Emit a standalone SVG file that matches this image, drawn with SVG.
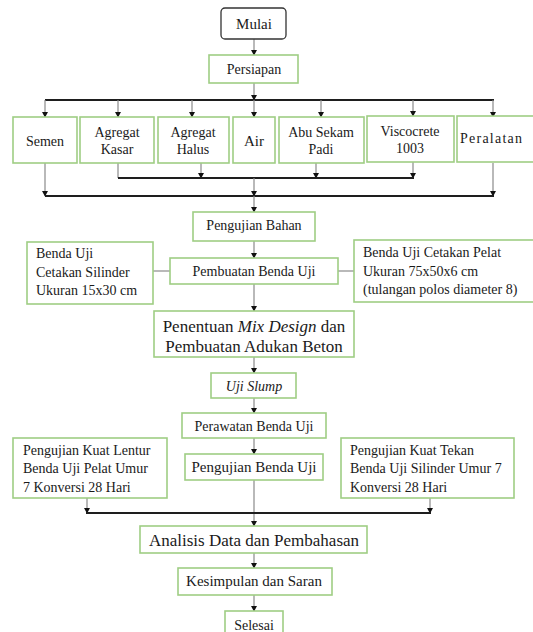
<svg xmlns="http://www.w3.org/2000/svg" width="533" height="632" viewBox="0 0 533 632" font-family="'Liberation Serif', 'DejaVu Serif', serif">
<style>
.box{fill:#fff;stroke:#9fce84;stroke-width:1.6}
.start{fill:#fff;stroke:#333;stroke-width:1.3}
text{font-family:'Liberation Serif','DejaVu Serif',serif;font-size:14px;fill:#1a1a1a}
.c{text-anchor:middle}
.big{font-size:17px}
.mid{font-size:15px}
.v{stroke:#8a8a8a;stroke-width:1.2;fill:none}
.h{stroke:#1e1e1e;stroke-width:2;fill:none}
</style>
<defs>
<marker id="ah" markerUnits="userSpaceOnUse" markerWidth="8" markerHeight="8" refX="4" refY="6.5" orient="0" viewBox="0 0 8 8">
<path d="M1,1.5 L7,1.5 L4,7 Z" fill="#111"/>
</marker>
</defs>
<rect width="533" height="632" fill="#fff"/>
<g id="connectors">
<line class="v" x1="254" y1="39" x2="254" y2="55" marker-end="url(#ah)"/>
<line class="v" x1="254" y1="83" x2="254" y2="100" marker-end="url(#ah)"/>
<line class="h" x1="45" y1="100" x2="494" y2="100"/>
<line class="v" x1="45" y1="100" x2="45" y2="117" marker-end="url(#ah)"/>
<line class="v" x1="118" y1="100" x2="118" y2="117" marker-end="url(#ah)"/>
<line class="v" x1="192" y1="100" x2="192" y2="117" marker-end="url(#ah)"/>
<line class="v" x1="254" y1="100" x2="254" y2="117" marker-end="url(#ah)"/>
<line class="v" x1="321" y1="100" x2="321" y2="117" marker-end="url(#ah)"/>
<line class="v" x1="413" y1="100" x2="413" y2="116" marker-end="url(#ah)"/>
<line class="v" x1="493" y1="100" x2="493" y2="117" marker-end="url(#ah)"/>
<line class="v" x1="118" y1="163" x2="118" y2="178"/>
<line class="v" x1="201" y1="163" x2="201" y2="178" marker-end="url(#ah)"/>
<line class="v" x1="316" y1="163" x2="316" y2="178" marker-end="url(#ah)"/>
<line class="v" x1="413" y1="162" x2="413" y2="178" marker-end="url(#ah)"/>
<line class="h" x1="118" y1="178" x2="414" y2="178"/>
<line class="v" x1="254" y1="178" x2="254" y2="196" marker-end="url(#ah)"/>
<line class="v" x1="45" y1="163" x2="45" y2="196" marker-end="url(#ah)"/>
<line class="v" x1="493" y1="163" x2="493" y2="196" marker-end="url(#ah)"/>
<line class="h" x1="45" y1="196" x2="494" y2="196"/>
<line class="v" x1="254" y1="196" x2="254" y2="212" marker-end="url(#ah)"/>
<line class="v" x1="254" y1="241" x2="254" y2="258" marker-end="url(#ah)"/>
<line class="v" x1="153" y1="271" x2="170" y2="271"/>
<line class="v" x1="338" y1="271" x2="354" y2="271"/>
<line class="v" x1="254" y1="284" x2="254" y2="311" marker-end="url(#ah)"/>
<line class="v" x1="254" y1="357" x2="254" y2="373" marker-end="url(#ah)"/>
<line class="v" x1="254" y1="398" x2="254" y2="413" marker-end="url(#ah)"/>
<line class="v" x1="254" y1="438" x2="254" y2="454" marker-end="url(#ah)"/>
<line class="v" x1="254" y1="480" x2="254" y2="526" marker-end="url(#ah)"/>
<line class="v" x1="87" y1="498" x2="87" y2="513" marker-end="url(#ah)"/>
<line class="v" x1="430" y1="498" x2="430" y2="513" marker-end="url(#ah)"/>
<line class="h" x1="86" y1="513" x2="431" y2="513"/>
<line class="v" x1="254" y1="553" x2="254" y2="568" marker-end="url(#ah)"/>
<line class="v" x1="254" y1="595" x2="254" y2="611" marker-end="url(#ah)"/>
</g>
<g id="mulai"><rect class="start" x="221" y="8" width="65" height="31" rx="4"/><text class="c mid" x="254" y="29">Mulai</text></g>
<g id="persiapan"><rect class="box" x="209" y="55" width="89" height="28"/><text class="c" x="254" y="74">Persiapan</text></g>
<g id="semen"><rect class="box" x="13" y="117" width="64" height="46"/><text class="c" x="45" y="146">Semen</text></g>
<g id="agregat-kasar"><rect class="box" x="80" y="117" width="74" height="46"/><text class="c" x="117" y="137">Agregat</text><text class="c" x="117" y="154">Kasar</text></g>
<g id="agregat-halus"><rect class="box" x="158" y="117" width="71" height="46"/><text class="c" x="193" y="137">Agregat</text><text class="c" x="193" y="154">Halus</text></g>
<g id="air"><rect class="box" x="233" y="117" width="42" height="46"/><text class="c mid" x="254" y="146">Air</text></g>
<g id="abu-sekam-padi"><rect class="box" x="279" y="117" width="85" height="46"/><text class="c" x="321" y="137">Abu Sekam</text><text class="c" x="321" y="154">Padi</text></g>
<g id="viscocrete"><rect class="box" x="367" y="116" width="87" height="46"/><text class="c" x="410" y="136">Viscocrete</text><text class="c" x="410" y="153">1003</text></g>
<g id="peralatan"><rect class="box" x="457" y="116" width="90" height="46"/><text x="460" y="143" textLength="62">Peralatan</text></g>
<g id="pengujian-bahan"><rect class="box" x="193" y="212" width="122" height="29"/><text class="c" x="254" y="230">Pengujian Bahan</text></g>
<g id="cetakan-silinder"><rect class="box" x="27" y="242" width="126" height="62"/><text x="36" y="258">Benda Uji</text><text x="36" y="277">Cetakan Silinder</text><text x="36" y="295">Ukuran 15x30 cm</text></g>
<g id="pembuatan-benda-uji"><rect class="box" x="170" y="258" width="168" height="26"/><text class="c" x="254" y="276">Pembuatan Benda Uji</text></g>
<g id="cetakan-pelat"><rect class="box" x="354" y="240" width="190" height="62"/><text x="363" y="257">Benda Uji Cetakan Pelat</text><text x="363" y="276">Ukuran 75x50x6 cm</text><text x="363" y="294">(tulangan polos diameter 8)</text></g>
<g id="mix-design"><rect class="box" x="154" y="311" width="200" height="46"/><text class="c big" x="254" y="332">Penentuan <tspan font-style="italic">Mix Design</tspan> dan</text><text class="c big" x="254" y="352">Pembuatan Adukan Beton</text></g>
<g id="uji-slump"><rect class="box" x="211" y="373" width="85" height="25"/><text class="c" x="254" y="391" font-style="italic">Uji Slump</text></g>
<g id="perawatan"><rect class="box" x="182" y="413" width="144" height="25"/><text class="c" x="254" y="431">Perawatan Benda Uji</text></g>
<g id="kuat-lentur"><rect class="box" x="13" y="438" width="154" height="60"/><text x="23" y="455">Pengujian Kuat Lentur</text><text x="23" y="473">Benda Uji Pelat Umur</text><text x="23" y="492">7 Konversi 28 Hari</text></g>
<g id="pengujian-benda-uji"><rect class="box" x="185" y="454" width="138" height="26"/><text class="c mid" x="254" y="472">Pengujian Benda Uji</text></g>
<g id="kuat-tekan"><rect class="box" x="341" y="438" width="173" height="60"/><text x="350" y="455">Pengujian Kuat Tekan</text><text x="350" y="473">Benda Uji Silinder Umur 7</text><text x="350" y="492">Konversi 28 Hari</text></g>
<g id="analisis"><rect class="box" x="140" y="526" width="227" height="27"/><text class="c big" x="254" y="546">Analisis Data dan Pembahasan</text></g>
<g id="kesimpulan"><rect class="box" x="178" y="568" width="154" height="27"/><text class="c mid" x="254" y="586">Kesimpulan dan Saran</text></g>
<g id="selesai"><rect class="box" x="225" y="611" width="58" height="30"/><text class="c" x="254" y="630">Selesai</text></g>
</svg>
